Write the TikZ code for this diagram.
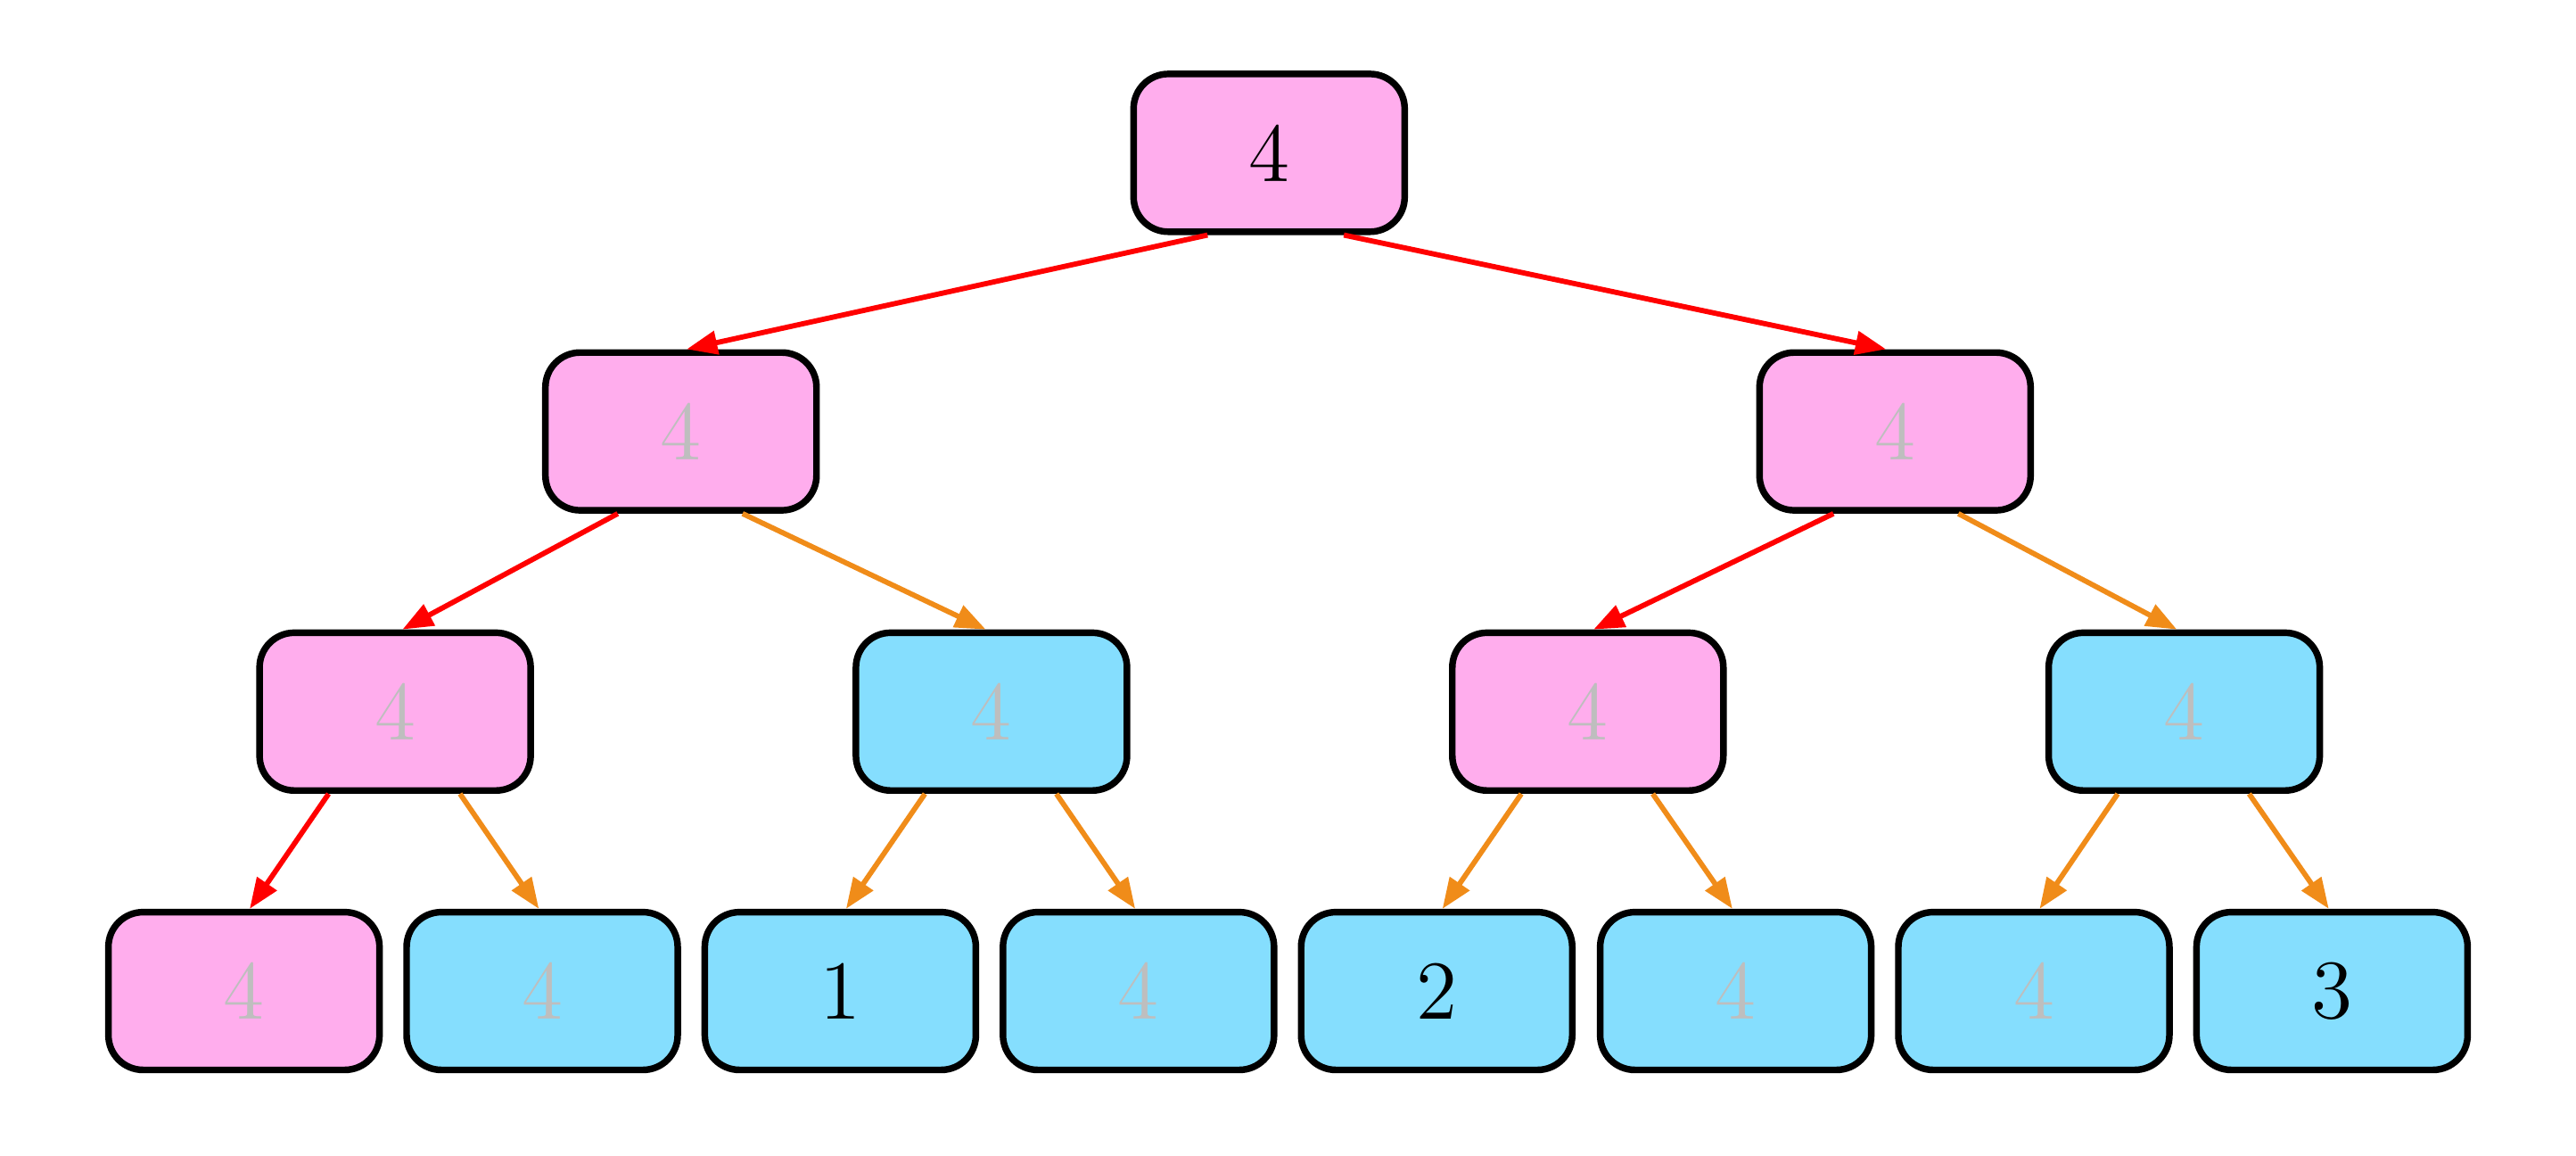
\documentclass[tikz,border=0pt]{standalone}
\usepackage{tikz}
\usetikzlibrary{arrows.meta, positioning}

\definecolor{nodepink}{RGB}{255,173,237}
\definecolor{nodeblue}{RGB}{133,222,254}
\definecolor{textgray}{RGB}{190,190,190}
\definecolor{edgered}{RGB}{255,0,0}
\definecolor{edgeorange}{RGB}{240,140,25}

\tikzset{
    box/.style={draw=black, line width=1.15pt, rounded corners=6pt,
        minimum width=1.65cm, minimum height=0.96cm, inner sep=0pt,
        font=\fontsize{14.5}{17}\selectfont},
    pinkbox/.style={box, fill=nodepink},
    bluebox/.style={box, fill=nodeblue},
    faded/.style={text=textgray},
    hot/.style={draw=edgered, line width=0.9pt, -{Triangle[length=5.3pt,width=4pt]}},
    cold/.style={hot, draw=edgeorange},
}

\begin{document}
\begin{tikzpicture}
    \useasboundingbox (0,0) rectangle (15.68,7.03);
    % Root
    \node[pinkbox] (root) at (7.725,6.10) {4};
    % Level 1
    \node[pinkbox, faded] (l) at (4.145,4.405) {4};
    \node[pinkbox, faded] (r) at (11.535,4.405) {4};
    % Level 2
    \node[pinkbox, faded] (ll) at (2.405,2.70) {4};
    \node[bluebox, faded] (lr) at (6.035,2.70) {4};
    \node[pinkbox, faded] (rl) at (9.665,2.70) {4};
    \node[bluebox, faded] (rr) at (13.295,2.70) {4};
    % Leaves
    \node[pinkbox, faded] (leafa) at (1.485,1.00) {4};
    \node[bluebox, faded] (leafb) at (3.300,1.00) {4};
    \node[bluebox] (leafc) at (5.115,1.00) {1};
    \node[bluebox, faded] (leafd) at (6.930,1.00) {4};
    \node[bluebox] (leafe) at (8.745,1.00) {2};
    \node[bluebox, faded] (leaff) at (10.565,1.00) {4};
    \node[bluebox, faded] (leafg) at (12.380,1.00) {4};
    \node[bluebox] (leafh) at (14.195,1.00) {3};

    % Edges: red follows the winner, orange the rest
    \draw[hot] ([xshift=-3.75mm]root.south) -- ([xshift=0.35mm]l.north);
    \draw[hot] ([xshift=4.55mm]root.south) -- ([xshift=-0.55mm]r.north);

    \draw[hot] ([xshift=-3.85mm]l.south) -- ([xshift=0.45mm]ll.north);
    \draw[cold] ([xshift=3.75mm]l.south) -- ([xshift=-0.35mm]lr.north);
    \draw[hot] ([xshift=-3.75mm]r.south) -- ([xshift=0.35mm]rl.north);
    \draw[cold] ([xshift=3.85mm]r.south) -- ([xshift=-0.45mm]rr.north);

    \draw[hot] ([xshift=-4.05mm]ll.south) -- ([xshift=0.35mm]leafa.north);
    \draw[cold] ([xshift=3.95mm]ll.south) -- ([xshift=-0.2mm]leafb.north);
    \draw[cold] ([xshift=-4.05mm]lr.south) -- ([xshift=0.35mm]leafc.north);
    \draw[cold] ([xshift=3.95mm]lr.south) -- ([xshift=-0.2mm]leafd.north);
    \draw[cold] ([xshift=-4.05mm]rl.south) -- ([xshift=0.35mm]leafe.north);
    \draw[cold] ([xshift=3.95mm]rl.south) -- ([xshift=-0.2mm]leaff.north);
    \draw[cold] ([xshift=-4.05mm]rr.south) -- ([xshift=0.35mm]leafg.north);
    \draw[cold] ([xshift=3.95mm]rr.south) -- ([xshift=-0.2mm]leafh.north);
\end{tikzpicture}
\end{document}
